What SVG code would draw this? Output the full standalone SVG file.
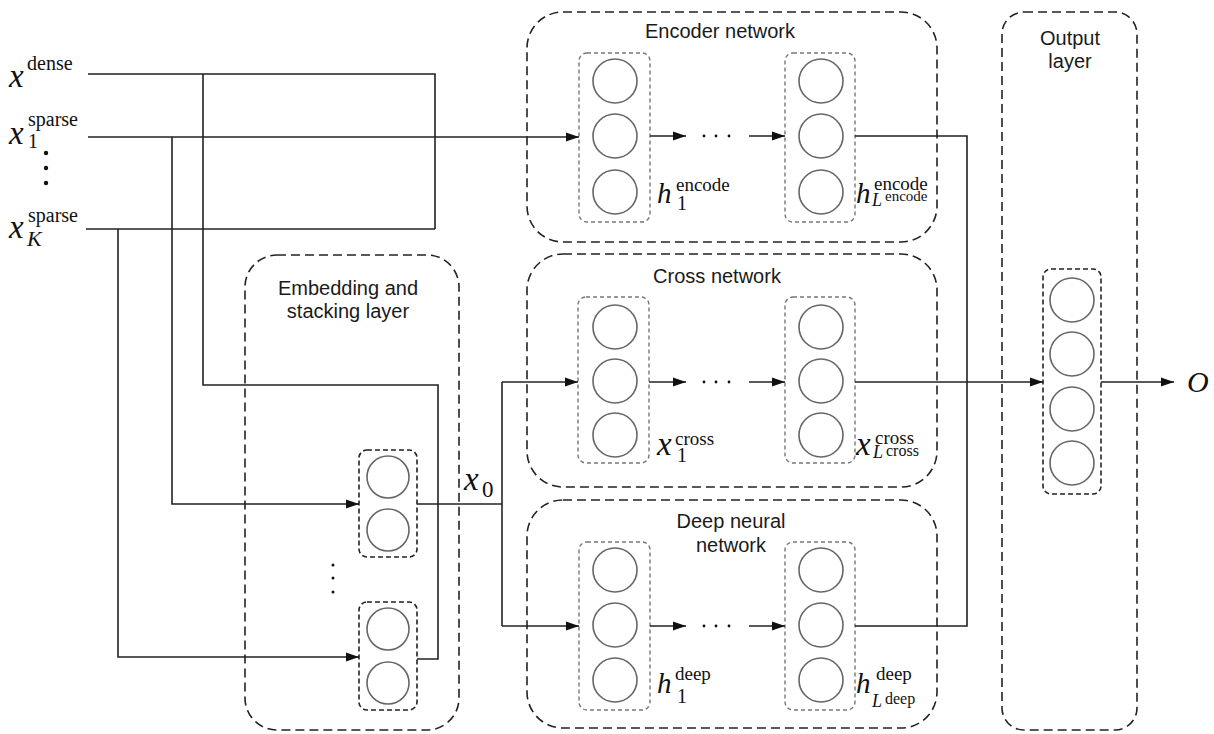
<svg xmlns="http://www.w3.org/2000/svg" width="1214" height="734" viewBox="0 0 1214 734">
<defs>
<style>
.outer{fill:none;stroke:#222;stroke-width:1.6;stroke-dasharray:9 5}
.layer{fill:none;stroke:#777;stroke-width:1.4;stroke-dasharray:4 3}
.layerk{fill:none;stroke:#222;stroke-width:1.6;stroke-dasharray:5 3}
.neu{fill:#fff;stroke:#666;stroke-width:1.6}
.wire{fill:none;stroke:#222;stroke-width:1.6}
.arr{marker-end:url(#ah)}
.lbl{font-family:"Liberation Sans",Arial,sans-serif;font-size:20px;fill:#1a1a1a;text-anchor:middle}
.m{font-family:"Liberation Serif","Times New Roman",serif;fill:#111}
.i{font-style:italic}
.dot{fill:#111}
</style>
<marker id="ah" markerUnits="userSpaceOnUse" markerWidth="13" markerHeight="10" refX="13" refY="5" orient="auto">
<path d="M0,0.5 L13,5 L0,9.5 z" fill="#111"/>
</marker>
</defs>
<rect width="1214" height="734" fill="#fff"/>

<!-- Input labels -->
<g id="inputs">
<text class="m"><tspan class="i" x="9" y="87" font-size="33">x</tspan><tspan x="27" y="70" font-size="20">dense</tspan></text>
<text class="m"><tspan class="i" x="9" y="144" font-size="33">x</tspan><tspan x="28" y="126" font-size="20">sparse</tspan><tspan x="28" y="148" font-size="20">1</tspan></text>
<circle class="dot" cx="46" cy="153" r="2.2"/>
<circle class="dot" cx="46" cy="168" r="2.2"/>
<circle class="dot" cx="46" cy="183" r="2.2"/>
<text class="m"><tspan class="i" x="9" y="238" font-size="33">x</tspan><tspan x="28" y="222" font-size="20">sparse</tspan><tspan class="i" x="27" y="246" font-size="22">K</tspan></text>
</g>

<!-- Embedding and stacking layer -->
<g id="embedding">
<rect class="outer" x="245" y="255" width="214" height="475" rx="32"/>
<text class="lbl" x="348" y="295">Embedding and</text>
<text class="lbl" x="348" y="318">stacking layer</text>
<rect class="layerk" x="359" y="450" width="58" height="107" rx="8"/>
<circle class="neu" cx="388" cy="477" r="21"/>
<circle class="neu" cx="388" cy="530" r="21"/>
<circle class="dot" cx="333" cy="565" r="1.5"/>
<circle class="dot" cx="333" cy="578" r="1.5"/>
<circle class="dot" cx="333" cy="592" r="1.5"/>
<rect class="layerk" x="359" y="602" width="58" height="108" rx="8"/>
<circle class="neu" cx="388" cy="629" r="21"/>
<circle class="neu" cx="388" cy="683" r="21"/>
</g>

<!-- Encoder network -->
<g id="encoder">
<rect class="outer" x="527" y="12" width="410" height="230" rx="36"/>
<text class="lbl" x="720" y="38">Encoder network</text>
<rect class="layer" x="579" y="53" width="71" height="169" rx="8"/>
<circle class="neu" cx="615" cy="81" r="22"/>
<circle class="neu" cx="615" cy="136" r="22"/>
<circle class="neu" cx="615" cy="192" r="22"/>
<rect class="layer" x="785" y="53" width="70" height="169" rx="8"/>
<circle class="neu" cx="821" cy="81" r="22"/>
<circle class="neu" cx="821" cy="136" r="22"/>
<circle class="neu" cx="821" cy="192" r="22"/>
<circle class="dot" cx="704" cy="136" r="1.4"/>
<circle class="dot" cx="716" cy="136" r="1.4"/>
<circle class="dot" cx="729" cy="136" r="1.4"/>
<text class="m"><tspan class="i" x="657" y="203" font-size="29">h</tspan><tspan x="676" y="191" font-size="19">encode</tspan><tspan x="677" y="210" font-size="20">1</tspan></text>
<text class="m"><tspan class="i" x="856" y="203" font-size="29">h</tspan><tspan x="874" y="190" font-size="19">encode</tspan><tspan class="i" x="872" y="206" font-size="18">L</tspan><tspan x="885" y="201" font-size="15">encode</tspan></text>
</g>

<!-- Cross network -->
<g id="cross">
<rect class="outer" x="527" y="254" width="410" height="233" rx="36"/>
<text class="lbl" x="717" y="283">Cross network</text>
<rect class="layer" x="578" y="297" width="71" height="166" rx="8"/>
<circle class="neu" cx="615" cy="327" r="22"/>
<circle class="neu" cx="615" cy="381" r="22"/>
<circle class="neu" cx="615" cy="435" r="22"/>
<rect class="layer" x="785" y="297" width="70" height="166" rx="8"/>
<circle class="neu" cx="821" cy="327" r="22"/>
<circle class="neu" cx="821" cy="381" r="22"/>
<circle class="neu" cx="821" cy="435" r="22"/>
<circle class="dot" cx="704" cy="382" r="1.4"/>
<circle class="dot" cx="716" cy="382" r="1.4"/>
<circle class="dot" cx="729" cy="382" r="1.4"/>
<text class="m"><tspan class="i" x="657" y="455" font-size="33">x</tspan><tspan x="675" y="445" font-size="19">cross</tspan><tspan x="677" y="462" font-size="20">1</tspan></text>
<text class="m"><tspan class="i" x="856" y="455" font-size="33">x</tspan><tspan x="875" y="444" font-size="19">cross</tspan><tspan class="i" x="873" y="458" font-size="18">L</tspan><tspan x="886" y="456" font-size="16">cross</tspan></text>
</g>

<!-- Deep neural network -->
<g id="deep">
<rect class="outer" x="527" y="500" width="410" height="228" rx="36"/>
<text class="lbl" x="731" y="528">Deep neural</text>
<text class="lbl" x="731" y="552">network</text>
<rect class="layer" x="579" y="542" width="71" height="168" rx="8"/>
<circle class="neu" cx="615" cy="570" r="22"/>
<circle class="neu" cx="615" cy="625" r="22"/>
<circle class="neu" cx="615" cy="680" r="22"/>
<rect class="layer" x="785" y="542" width="70" height="168" rx="8"/>
<circle class="neu" cx="821" cy="570" r="22"/>
<circle class="neu" cx="821" cy="625" r="22"/>
<circle class="neu" cx="821" cy="680" r="22"/>
<circle class="dot" cx="704" cy="626" r="1.4"/>
<circle class="dot" cx="716" cy="626" r="1.4"/>
<circle class="dot" cx="729" cy="626" r="1.4"/>
<text class="m"><tspan class="i" x="657" y="693" font-size="29">h</tspan><tspan x="675" y="680" font-size="19">deep</tspan><tspan x="677" y="703" font-size="20">1</tspan></text>
<text class="m"><tspan class="i" x="856" y="693" font-size="29">h</tspan><tspan x="876" y="680" font-size="19">deep</tspan><tspan class="i" x="872" y="707" font-size="18">L</tspan><tspan x="885" y="704" font-size="16">deep</tspan></text>
</g>

<!-- Output layer -->
<g id="output">
<rect class="outer" x="1002" y="12" width="135" height="718" rx="22"/>
<text class="lbl" x="1070" y="45">Output</text>
<text class="lbl" x="1070" y="68">layer</text>
<rect class="layerk" x="1043" y="269" width="58" height="225" rx="8"/>
<circle class="neu" cx="1072" cy="300" r="22"/>
<circle class="neu" cx="1072" cy="354" r="22"/>
<circle class="neu" cx="1072" cy="409" r="22"/>
<circle class="neu" cx="1072" cy="463" r="22"/>
<text class="m i" x="1187" y="392" font-size="30">O</text>
</g>

<!-- x0 label -->
<g id="x0">
<text class="m"><tspan class="i" x="464" y="490" font-size="33">x</tspan><tspan x="482" y="497" font-size="23">0</tspan></text>
</g>

<!-- Connectors -->
<g id="connectors">
<path class="wire" d="M88,74 H435 V229"/>
<path class="wire" d="M203,74 V385 H438 V659 H417"/>
<path class="wire arr" d="M88,137 H579"/>
<path class="wire arr" d="M172,137 V504 H359"/>
<path class="wire" d="M86,229 H435"/>
<path class="wire arr" d="M118,229 V657 H359"/>
<path class="wire" d="M417,504 H502"/>
<path class="wire" d="M502,382 V626"/>
<path class="wire arr" d="M502,382 H578"/>
<path class="wire arr" d="M502,626 H579"/>
<path class="wire arr" d="M650,136 H686"/>
<path class="wire arr" d="M749,136 H785"/>
<path class="wire arr" d="M649,382 H686"/>
<path class="wire arr" d="M749,382 H785"/>
<path class="wire arr" d="M650,626 H686"/>
<path class="wire arr" d="M749,626 H785"/>
<path class="wire" d="M855,136 H967 V626 H855"/>
<path class="wire arr" d="M855,382 H1043"/>
<path class="wire arr" d="M1101,382 H1174"/>
</g>
</svg>
